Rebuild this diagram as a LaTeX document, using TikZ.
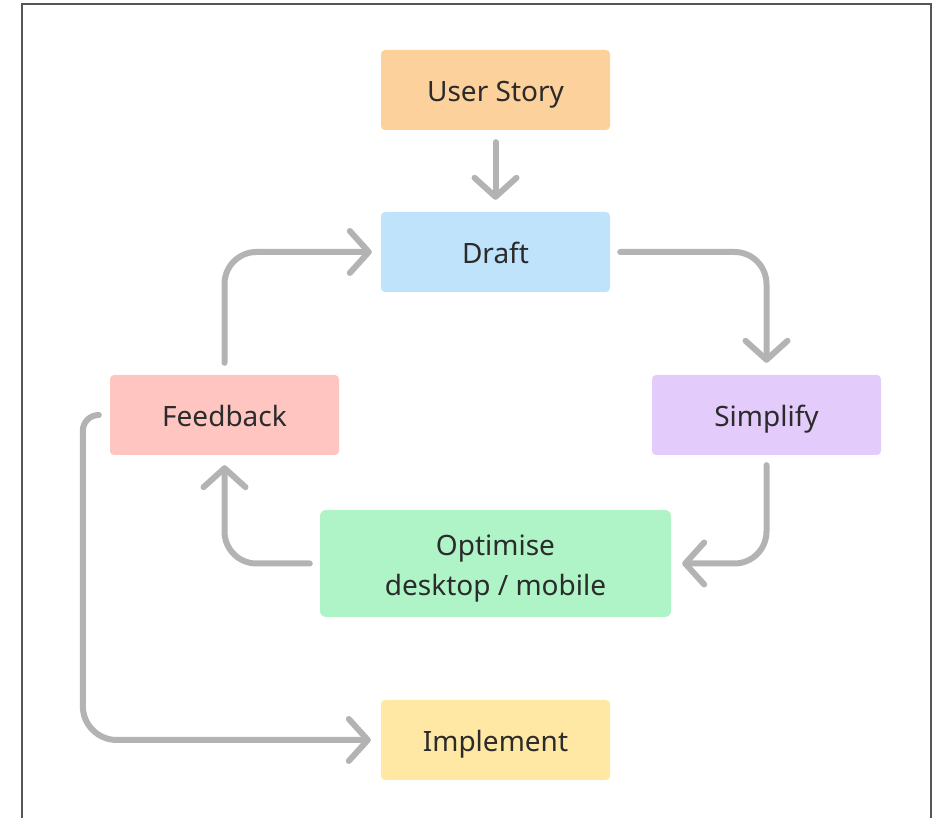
\documentclass[tikz,border=0pt]{standalone}
\usepackage{fontspec}
\setmainfont{Noto Sans}
\usetikzlibrary{arrows.meta}
\definecolor{cOrange}{HTML}{FCD19C}
\definecolor{cBlue}{HTML}{BEE3FB}
\definecolor{cPink}{HTML}{FFC6C1}
\definecolor{cLav}{HTML}{E3CCFB}
\definecolor{cGreen}{HTML}{AFF4C6}
\definecolor{cYellow}{HTML}{FFE8A3}
\definecolor{cArrow}{HTML}{B3B3B3}
\definecolor{cFrame}{HTML}{555555}
\definecolor{cText}{HTML}{2B2B2B}
\begin{document}
\begin{tikzpicture}[x=1pt,y=1pt,
  box/.style={rectangle, rounded corners=4pt, inner sep=0pt, minimum width=229pt, minimum height=80pt, text=cText, font=\fontsize{28}{40}\selectfont, align=center, text height=24pt, text depth=0pt},
  arr/.style={draw=cArrow, line width=6pt, line cap=round, line join=round, -{Straight Barb[length=19pt,width=42pt,round]}}]
\useasboundingbox (0,0) rectangle (938,818);
\clip (0,0) rectangle (938,818);
\draw[cFrame, line width=2pt] (22,-20) -- (22,814) -- (931,814) -- (931,-20);
\node[box, fill=cOrange] (us) at (495.5,728) {User Story};
\node[box, fill=cBlue] (dr) at (495.5,566) {Draft};
\node[box, fill=cPink] (fb) at (224.5,403) {Feedback};
\node[box, fill=cLav] (si) at (766.5,403) {Simplify};
\node[box, fill=cGreen, minimum width=351pt, minimum height=107pt, rounded corners=6pt, text height=65pt, text depth=0pt] (op) at (495.5,254.5) {Optimise\\desktop / mobile};
\node[box, fill=cYellow] (im) at (495.5,78) {Implement};
\draw[arr] ([yshift=-12pt]us.south) -- ([yshift=12pt]dr.north);
\draw[arr, rounded corners=32pt] ([xshift=10pt]dr.east) -| ([yshift=12pt]si.north);
\draw[arr, rounded corners=32pt] ([yshift=-10pt]si.south) |- ([xshift=11pt]op.east);
\draw[arr, rounded corners=32pt] ([xshift=-10pt]op.west) -| ([yshift=-10pt]fb.south);
\draw[arr, rounded corners=32pt] ([yshift=12pt]fb.north) |- ([xshift=-9pt]dr.west);
\draw[arr] ([xshift=-11pt]fb.west) arc[start angle=90, end angle=180, radius=16pt] [rounded corners=34pt] |- ([xshift=-10pt]im.west);
\end{tikzpicture}
\end{document}
